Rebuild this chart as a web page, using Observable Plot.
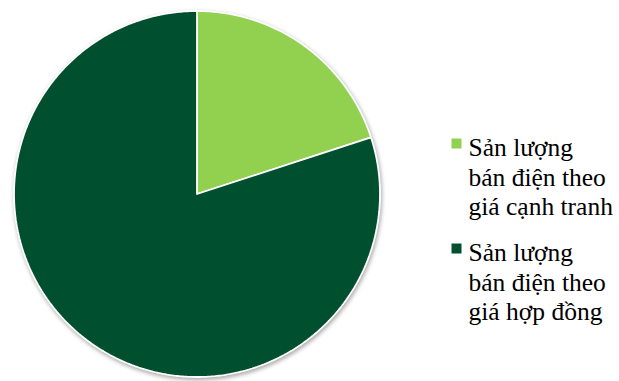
<!DOCTYPE html>
<html><head><meta charset="utf-8">
<script src="https://cdn.jsdelivr.net/npm/d3@7"></script>
<script src="https://cdn.jsdelivr.net/npm/@observablehq/plot@0.6"></script>
</head><body style="margin:0;padding:0;background:#fff;">
<div id="wrap"></div>
<script>
const categories = ["Sản lượng bán điện theo giá cạnh tranh", "Sản lượng bán điện theo giá hợp đồng"];
const legendLabels = ["Sản lượng\nbán điện theo\ngiá cạnh tranh", "Sản lượng\nbán điện theo\ngiá hợp đồng"];
const values = [20, 80];
const colors = ["#92D050", "#00502F"];

const total = d3.sum(values);
const pts = [];
let start = 0;
categories.forEach((c, i) => {
  const a0 = start / total * 2 * Math.PI;
  const a1 = (start + values[i]) / total * 2 * Math.PI;
  start += values[i];
  pts.push({cat: c, x: 0, y: 0});
  const n = Math.max(2, Math.ceil((a1 - a0) / 0.01));
  for (let k = 0; k <= n; k++) {
    const a = a0 + (a1 - a0) * k / n;
    pts.push({cat: c, x: Math.sin(a), y: Math.cos(a)});
  }
  pts.push({cat: c, x: 0, y: 0});
});

const legendMarks = categories.flatMap((c, i) => [
  Plot.dot([c], {frameAnchor: "top-left", dx: 456, dy: 143 + 105 * i, symbol: "square", r: 5.64, fill: colors[i], stroke: null}),
  Plot.text([legendLabels[i]], {frameAnchor: "top-left", dx: 468, dy: 135 + 105 * i, text: d => d, textAnchor: "start", lineAnchor: "top", lineHeight: 1.157, fontSize: 25.5, fontFamily: "Liberation Serif", fill: "black"})
]);

const chart = Plot.plot({
  width: 619, height: 381,
  margin: 0,
  style: {fontFamily: "Liberation Serif", fontSize: "25px", background: "white"},
  x: {domain: [-1, 1], range: [13.5, 379.5], axis: null},
  y: {domain: [-1, 1], range: [376.5, 10.5], axis: null},
  color: {domain: categories, range: colors},
  marks: [
    Plot.line(pts, {x: "x", y: "y", z: "cat", fill: "cat", stroke: "white", strokeWidth: 1.8, strokeLinejoin: "miter", curve: "linear"}),
    ...legendMarks
  ]
});
const pieG = chart.querySelector('g[aria-label="line"]');
if (pieG) pieG.style.filter = "drop-shadow(1px 2px 2px rgba(0,0,0,0.35))";
chart.querySelectorAll("text, tspan").forEach(t => {
  t.setAttribute("font-family", "Liberation Serif");
  t.style.fontFamily = "'Liberation Serif', 'Times New Roman', serif";
});
document.getElementById("wrap").appendChild(chart);
</script>
</body></html>
